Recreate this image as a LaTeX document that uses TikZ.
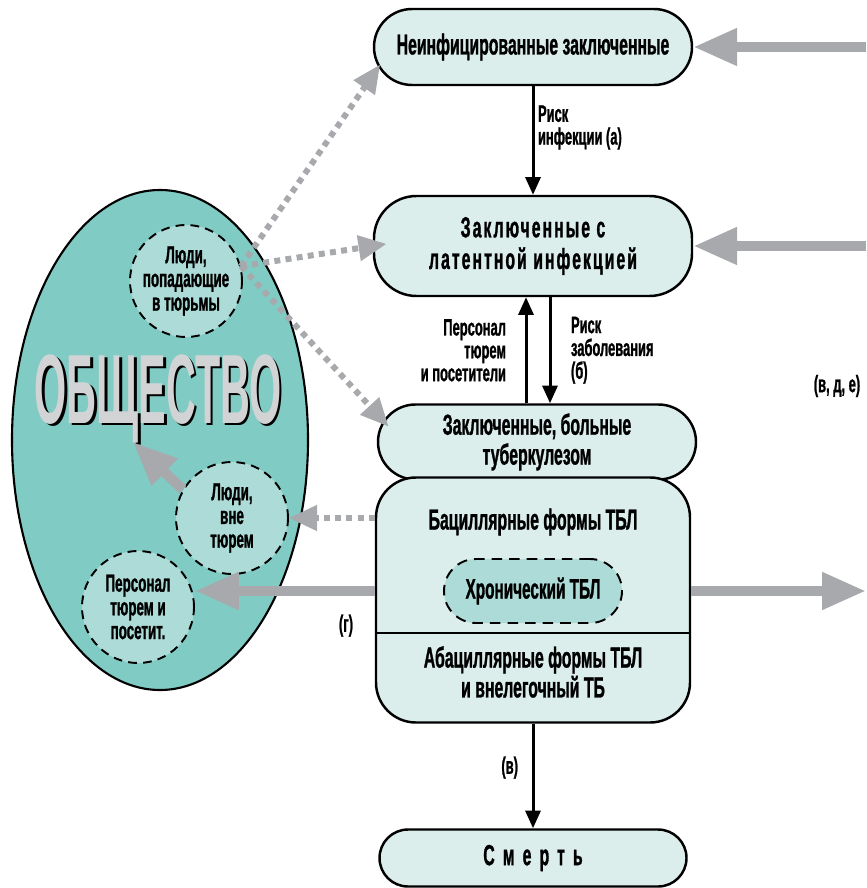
\documentclass[tikz,border=0pt]{standalone}
\usepackage{fontspec}
\setmainfont[FakeStretch=0.545, BoldFeatures={FakeBold=1}]{Liberation Sans}
\newfontfamily\socfont[FakeStretch=0.42]{Liberation Sans}
\usepackage{xcolor}
\usetikzlibrary{positioning}
\usetikzlibrary{arrows.meta}
\usetikzlibrary{calc}
\usetikzlibrary{math}

\definecolor{boxfill}{HTML}{DCEEEC}
\definecolor{sea}{HTML}{80CBC4}
\definecolor{pool}{HTML}{ADDCD8}
\definecolor{arrowgray}{HTML}{A7A9AC}
\definecolor{lettergray}{HTML}{D1D3D4}

\tikzset{
  stage/.style={draw, line width=1.4pt, fill=boxfill, align=center,
    font=\bfseries\fontsize{16.5}{17}\selectfont, minimum width=6.36cm, inner sep=2pt},
  group/.style={circle, draw, line width=1.1pt, dash pattern=on 5pt off 3.5pt,
    fill=pool, minimum size=2.24cm, inner sep=0pt, align=center,
    font=\bfseries\fontsize{14}{13.5}\selectfont},
  note/.style={text=black, font=\bfseries\fontsize{13.5}{13}\selectfont, inner sep=2pt},
  flow/.style={-{Triangle[length=10pt,width=8.5pt]}, line width=1.7pt},
  feed/.style={-{Triangle[length=25pt,width=20pt]}, line width=5.8pt, color=arrowgray},
  leak/.style={-{Triangle[length=16pt,width=14pt]}, line width=3.4pt, color=arrowgray,
    dash pattern=on 3.4pt off 3pt},
}

\begin{document}
\begin{tikzpicture}

  \tikzmath{
    \societyrx = 2.96; % x radius of society ellipse
    \societyry = 5.00; % y radius of society ellipse
  }

  \useasboundingbox (0,0) rectangle (17.32,-17.76);

  \coordinate (society) at ( 3.20,  -8.80 );
  \coordinate (socin)   at ( 2.66,  -8.84 );
  \coordinate (rim)     at ( 17.32,  0.00 );
  \coordinate (split)   at ( 10.66, -12.66 );

  % Society
  \draw[line width=1.2pt, fill=sea] (society) ellipse (\societyrx cm and \societyry cm);
  \node[text=black, font=\socfont\bfseries\fontsize{56}{56}\selectfont] (socshadow)
    at (3.21, -8.02) {ОБЩЕСТВО};
  \node[text=lettergray, font=\socfont\bfseries\fontsize{56}{56}\selectfont] (soctitle)
    at (3.16, -7.97) {ОБЩЕСТВО};

  % Groups inside society
  \node[group] (inprison) at (3.72,  -5.62) {Люди,\\попадающие\\в тюрьмы};
  \node[group] (outside)  at (4.64, -10.36) {Люди,\\вне\\тюрем};
  \node[group] (staff)    at (2.76, -12.14) {Персонал\\тюрем и\\посетит.};

  % Prison stages
  \node[stage, minimum height=1.52cm, rounded corners=0.76cm] (clean) at (10.66, -0.94)
    {Неинфицированные заключенные};
  \node[stage, minimum height=2.0cm, rounded corners=0.85cm,
    font=\bfseries\fontsize{16.5}{18}\selectfont\addfontfeatures{LetterSpace=7}] (latent)
    at (10.66, -4.92) {Заключенные с\\латентной инфекцией};
  \node[stage, minimum height=1.5cm, rounded corners=0.75cm] (sick) at (10.74, -8.84)
    {Заключенные, больные\\туберкулезом};
  \node[stage, minimum width=6.28cm, minimum height=4.9cm, rounded corners=0.8cm] (tb)
    at (10.66, -12.0) {};
  \draw[line width=1.4pt] (tb.west |- split) -- (tb.east |- split);
  \node[font=\bfseries\fontsize{16.5}{17}\selectfont] (bacil) at (10.66, -10.44)
    {Бациллярные формы ТБЛ};
  \node[draw, line width=1.1pt, dash pattern=on 6pt off 4pt, fill=pool,
    minimum width=3.56cm, minimum height=1.28cm, rounded corners=0.64cm,
    font=\bfseries\fontsize{16}{17}\selectfont] (chron) at (10.66, -11.82)
    {Хронический ТБЛ};
  \node[align=center, font=\bfseries\fontsize{16.5}{17}\selectfont] (abacil)
    at (10.66, -13.44) {Абациллярные формы ТБЛ\\и внелегочный ТБ};
  \node[stage, minimum width=6.14cm, minimum height=1.14cm, rounded corners=0.57cm,
    font=\bfseries\fontsize{16.5}{17}\selectfont\addfontfeatures{LetterSpace=28}] (death)
    at (10.66, -17.16) {Смерть};

  % Transitions
  \draw[flow] (clean) -- (latent)
    node[note, pos=0.38, right, align=left] {Риск\\инфекции (а)};
  \draw[flow] ([xshift=-0.22cm]sick.north) -- ([xshift=-0.22cm]sick.north |- latent.south)
    node[note, midway, left=0.3cm, align=right] {Персонал\\тюрем\\и посетители};
  \draw[flow] ([xshift=0.26cm]sick.north |- latent.south) -- ([xshift=0.26cm]sick.north)
    node[note, midway, right=0.32cm, align=left] {Риск\\заболевания\\(б)};
  \draw[flow] (tb) -- (death) node[note, pos=0.42, left=0.2cm] {(в)};

  % Flows from and to outside
  \draw[feed] (clean -| rim) -- (clean.east);
  \draw[feed] (latent -| rim) -- (latent.east);
  \draw[feed] (tb.east |- chron) -- (chron -| rim);
  \draw[feed] (tb.west |- chron) -- (chron -| staff.east)
    node[note, pos=0.16, below=0.3cm] {(г)};
  \draw[feed] (outside.150) -- (socin);
  \node[note] (vde) at (16.74, -7.72) {(в, д, е)};

  % Dotted flows
  \draw[leak] (tb.west |- outside) -- (outside.east);
  \draw[leak, shorten >=-0.26cm] (inprison.15) -- (clean.190);
  \draw[leak, shorten >=-0.28cm] (inprison.15) -- (latent.west);
  \draw[leak, shorten >=-0.35cm] (inprison.15) -- (sick.170);

\end{tikzpicture}
\end{document}
